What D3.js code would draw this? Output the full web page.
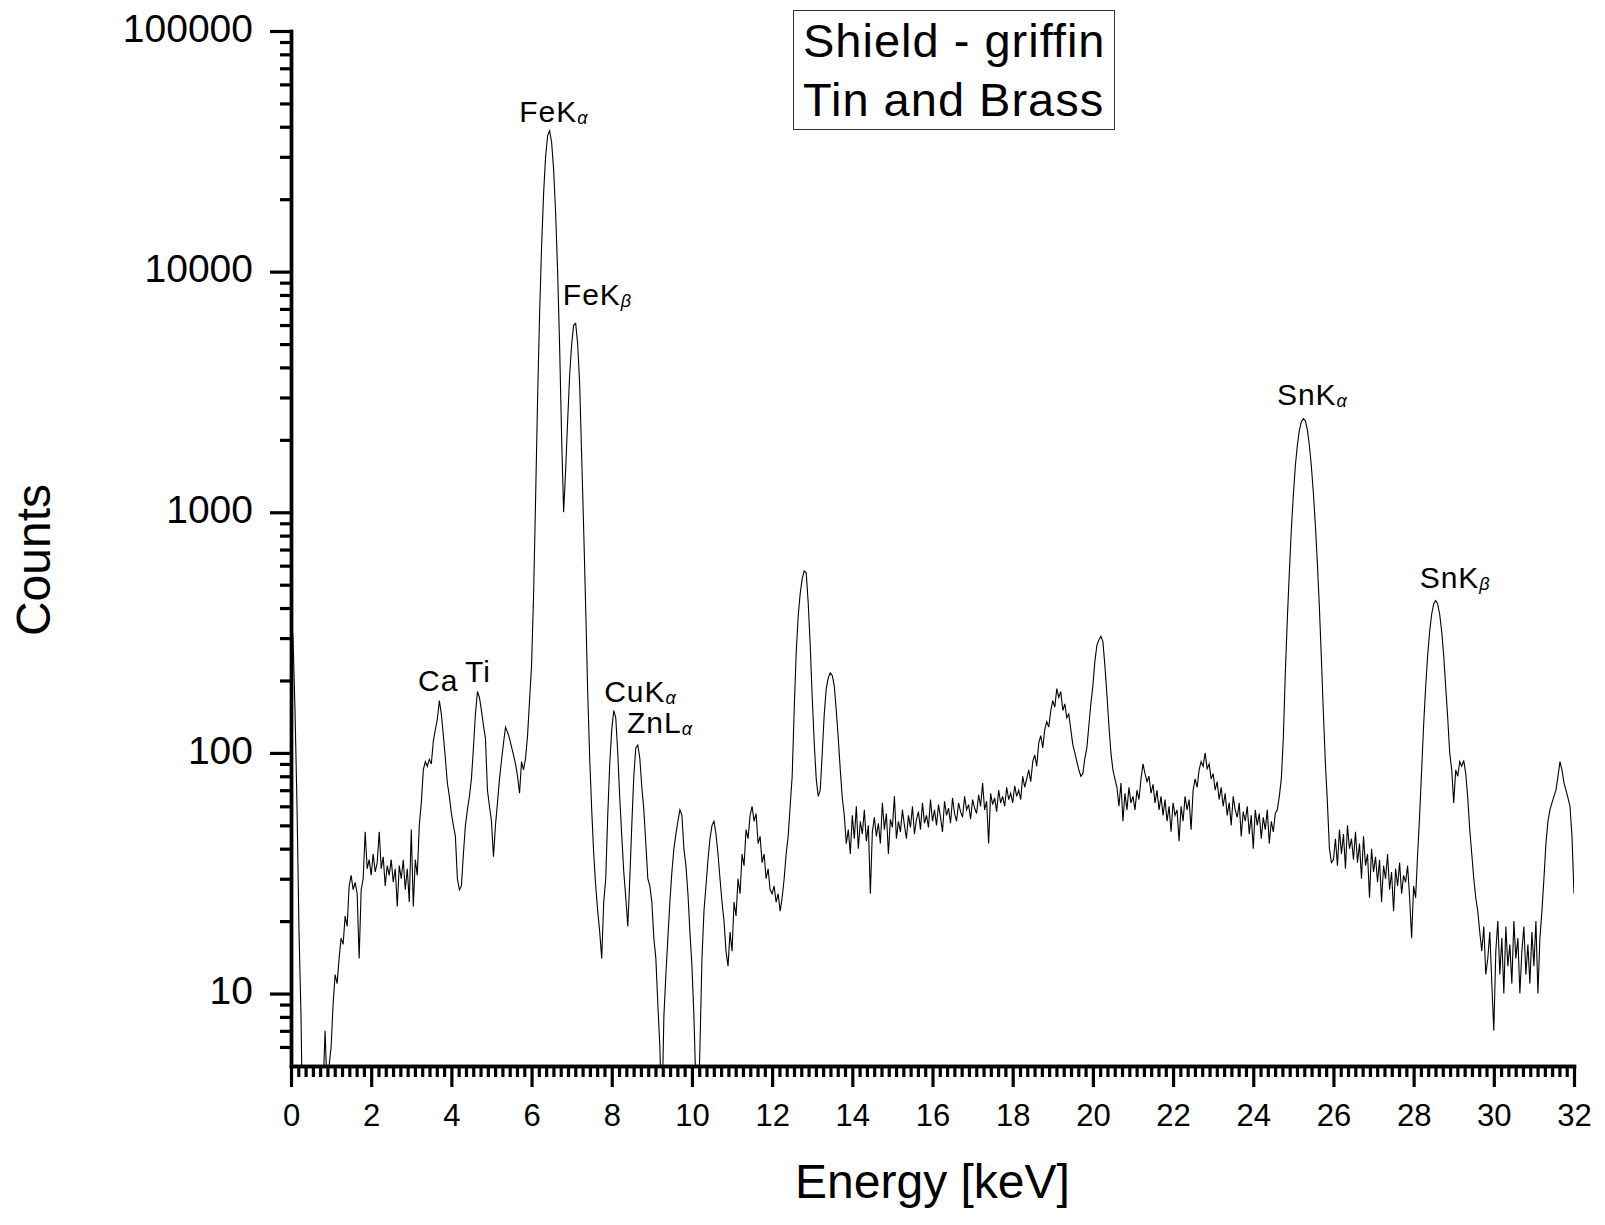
<!DOCTYPE html>
<html>
<head>
<meta charset="utf-8">
<script src="https://cdn.jsdelivr.net/npm/d3@7"></script>
<style>
  body { margin: 0; background: #fff; }
  svg { display: block; font-family: "Liberation Sans", Arial, sans-serif; }
</style>
</head>
<body>
<svg id="chart"></svg>
<script>
// Counts per 0.05 keV channel, one row per keV (20 channels)
const energyStep = 0.05;

const counts0to4 = [
  380, 300, 150, 60, 18, 8, 2, 1, 1, 1, 1, 1, 1, 1, 1, 2, 4, 7, 4, 5,
  6, 9, 12, 11, 14, 17, 16, 21, 19, 28, 31, 27, 29, 26, 14, 27, 30, 47, 33, 36,
  31, 38, 32, 35, 47, 33, 37, 28, 34, 31, 36, 29, 33, 23, 34, 30, 36, 27, 33, 24,
  48, 23, 36, 31, 50, 62, 85, 92, 88, 94, 90, 112, 125, 138, 165, 145, 118, 95, 75, 66
];
const counts4to8 = [
  56, 50, 45, 30, 27, 28, 38, 50, 58, 66, 78, 105, 145, 180, 170, 150, 130, 115, 70, 60,
  52, 37, 50, 62, 78, 93, 110, 128, 122, 115, 106, 98, 90, 80, 68, 92, 85, 95, 118, 165,
  230, 450, 1120, 2940, 6600, 12700, 21100, 30000, 36700, 38500, 34500, 26600, 17600, 10000, 4870, 2040, 1000, 1500, 2400, 3700,
  5000, 6000, 6100, 5000, 3400, 1700, 850, 400, 180, 95, 58, 38, 28, 22, 18, 14, 24, 30, 55, 90
];
const counts8to12 = [
  125, 150, 140, 100, 65, 45, 32, 25, 19, 30, 50, 80, 105, 108, 95, 72, 58, 42, 30, 28,
  24, 17, 14, 9, 6, 3, 8, 12, 17, 24, 32, 40, 46, 52, 58, 55, 40, 34, 26, 18,
  13, 8, 4, 3, 6, 14, 22, 28, 36, 44, 50, 52, 46, 38, 30, 24, 20, 15, 13, 18,
  15, 24, 21, 30, 26, 38, 34, 48, 44, 55, 60, 52, 56, 42, 45, 35, 38, 30, 33, 27
];
const counts12to16 = [
  26, 28, 24, 26, 22, 25, 30, 38, 45, 60, 80, 150, 260, 370, 460, 530, 570, 560, 420, 280,
  170, 110, 78, 66, 70, 100, 145, 185, 205, 215, 210, 190, 150, 115, 85, 65, 55, 42, 48, 38,
  55, 44, 60, 40, 52, 46, 58, 43, 50, 26, 47, 54, 45, 51, 42, 62, 48, 56, 38, 53,
  49, 66, 44, 52, 47, 58, 50, 44, 55, 49, 60, 46, 53, 57, 48, 62, 51, 55, 49, 64
];
const counts16to20 = [
  52, 58, 50, 61, 54, 47, 63, 55, 59, 51, 65, 56, 52, 62, 57, 54, 66, 58, 61, 53,
  64, 59, 56, 67, 60, 75, 58, 63, 42, 68, 61, 65, 57, 70, 62, 66, 60, 72, 64, 68,
  62, 73, 66, 70, 64, 80, 72, 78, 85, 76, 92, 98, 88, 110, 118, 105, 125, 135, 128, 150,
  165, 155, 185, 170, 180, 150, 160, 140, 145, 125, 108, 100, 92, 85, 80, 82, 95, 105, 130, 160
];
const counts20to24 = [
  190, 240, 280, 295, 305, 290, 230, 175, 130, 100, 85, 78, 72, 60, 75, 52, 68, 58, 72, 62,
  66, 58, 70, 64, 78, 90, 82, 76, 80, 68, 74, 62, 70, 58, 66, 55, 64, 52, 60, 47,
  62, 55, 58, 43, 60, 52, 66, 58, 64, 48, 70, 78, 72, 85, 92, 88, 100, 86, 90, 78,
  82, 70, 76, 64, 72, 60, 68, 55, 62, 50, 66, 58, 54, 62, 45, 57, 52, 60, 46, 55
];
const counts24to28 = [
  40, 58, 50, 56, 44, 54, 48, 58, 42, 52, 47, 56, 58, 66, 78, 115, 215, 360, 560, 850,
  1180, 1560, 1900, 2190, 2380, 2450, 2400, 2200, 1900, 1550, 1200, 880, 610, 400, 245, 145, 90, 62, 40, 35,
  36, 44, 34, 48, 38, 46, 33, 50, 40, 44, 36, 47, 35, 42, 30, 45, 34, 38, 25, 40,
  32, 37, 29, 36, 24, 34, 30, 38, 27, 32, 22, 33, 28, 35, 26, 31, 29, 34, 25, 17
];
const counts28to32 = [
  28, 25, 38, 55, 85, 131, 188, 254, 320, 377, 416, 430, 416, 377, 320, 254, 188, 140, 100, 85,
  62, 85, 80, 92, 88, 93, 82, 65, 48, 38, 30, 25, 22, 18, 15, 19, 12, 14, 18, 11,
  7, 15, 20, 12, 17, 10, 19, 13, 16, 11, 20, 14, 17, 10, 15, 19, 12, 16, 11, 18,
  13, 20, 10, 17, 22, 30, 42, 52, 58, 62, 66, 70, 80, 92, 85, 75, 70, 65, 60, 45,
  26
];

const xTicks = d3.range(0, 33, 2);
const yTicks = [10, 100, 1000, 10000, 100000];

// peak annotations, anchored in data space (keV, counts)
const peakLabels = [
  { name: "Ca", sub: "", e: 3.17, c: 181 },
  { name: "Ti", sub: "", e: 4.34, c: 197 },
  { name: "FeK", sub: "α", e: 5.69, c: 42000 },
  { name: "FeK", sub: "β", e: 6.78, c: 7275 },
  { name: "CuK", sub: "α", e: 7.81, c: 163 },
  { name: "ZnL", sub: "α", e: 8.38, c: 121 },
  { name: "SnK", sub: "α", e: 24.59, c: 2790 },
  { name: "SnK", sub: "β", e: 28.15, c: 485 }
];

const titleLines = ["Shield - griffin", "Tin and Brass"];

const width = 1605;
const height = 1225;
const plot = { left: 291, right: 1574, top: 31, bottom: 1066 };

const counts = [].concat(counts0to4, counts4to8, counts8to12, counts12to16,
  counts16to20, counts20to24, counts24to28, counts28to32);
const spectrum = counts.map((c, i) => ({ e: i * energyStep, c }));

const x = d3.scaleLinear().domain([0, 32]).range([plot.left, plot.right]);
const y = d3.scaleLog().domain([5, 100000]).range([plot.bottom, plot.top]);

const svg = d3.select("#chart")
  .attr("width", width)
  .attr("height", height)
  .attr("viewBox", [0, 0, width, height]);

svg.append("defs").append("clipPath")
  .attr("id", "plot-clip")
  .append("rect")
  .attr("x", plot.left)
  .attr("y", plot.top - 5)
  .attr("width", plot.right - plot.left)
  .attr("height", plot.bottom - plot.top + 5);

// spectrum line
const line = d3.line()
  .x(d => x(d.e))
  .y(d => y(d.c));

svg.append("path")
  .datum(spectrum)
  .attr("clip-path", "url(#plot-clip)")
  .attr("fill", "none")
  .attr("stroke", "#000")
  .attr("stroke-width", 1.1)
  .attr("stroke-linejoin", "miter")
  .attr("d", line);

// minor ticks: 10 per major interval on x, 2..9 per decade on y
const xMinor = d3.range(16).flatMap(k => d3.range(1, 11).map(j => 2 * k + 2 * j / 11));
const yMinor = d3.range(0, 5)
  .flatMap(p => d3.range(2, 10).map(k => k * 10 ** p))
  .filter(v => v > 5 && v < 100000);

const styleAxis = g => {
  g.selectAll(".domain").attr("stroke-width", 3.4).attr("stroke-linecap", "square");
  g.selectAll(".tick line").attr("stroke-width", 3.2);
  g.selectAll("text")
    .attr("fill", "#000")
    .attr("font-family", "\"Liberation Sans\", Arial, sans-serif");
};

svg.append("g")
  .attr("transform", `translate(0,${plot.bottom})`)
  .call(d3.axisBottom(x).tickValues(xMinor).tickSize(11).tickSizeOuter(0).tickFormat(""))
  .call(styleAxis);

svg.append("g")
  .attr("transform", `translate(0,${plot.bottom})`)
  .call(d3.axisBottom(x).tickValues(xTicks).tickSize(21).tickSizeOuter(0).tickPadding(17).tickFormat(d3.format("d")))
  .call(styleAxis)
  .call(g => g.selectAll("text").attr("font-size", 31));

svg.append("g")
  .attr("transform", `translate(${plot.left},0)`)
  .call(d3.axisLeft(y).tickValues(yMinor).tickSize(11).tickSizeOuter(0).tickFormat(""))
  .call(styleAxis);

svg.append("g")
  .attr("transform", `translate(${plot.left},0)`)
  .call(d3.axisLeft(y).tickValues(yTicks).tickSize(21).tickSizeOuter(0).tickPadding(17).tickFormat(d3.format("d")))
  .call(styleAxis)
  .call(g => g.selectAll("text").attr("font-size", 39).attr("dy", "0.26em"));

// axis titles
svg.append("text")
  .attr("x", (plot.left + plot.right) / 2)
  .attr("y", 1198)
  .attr("text-anchor", "middle")
  .attr("font-size", 48)
  .text("Energy [keV]");

svg.append("text")
  .attr("transform", `translate(50,560) rotate(-90)`)
  .attr("text-anchor", "middle")
  .attr("font-size", 48)
  .text("Counts");

// peak labels
const labels = svg.append("g")
  .attr("font-size", 30)
  .attr("letter-spacing", 1)
  .selectAll("text")
  .data(peakLabels)
  .join("text")
  .attr("x", d => x(d.e))
  .attr("y", d => y(d.c));

labels.append("tspan").text(d => d.name);
labels.filter(d => d.sub)
  .append("tspan")
  .attr("font-size", 18)
  .attr("font-style", "italic")
  .attr("letter-spacing", 0)
  .attr("dy", 2)
  .text(d => d.sub);

// title box
const title = svg.append("g");
title.append("rect")
  .attr("x", 793.5)
  .attr("y", 10.5)
  .attr("width", 321)
  .attr("height", 119)
  .attr("fill", "#fff")
  .attr("stroke", "#333")
  .attr("stroke-width", 1);

title.selectAll("text")
  .data(titleLines)
  .join("text")
  .attr("x", 803)
  .attr("y", (d, i) => 57 + i * 59)
  .attr("font-size", 47)
  .attr("letter-spacing", 1)
  .text(d => d);
</script>
</body>
</html>
